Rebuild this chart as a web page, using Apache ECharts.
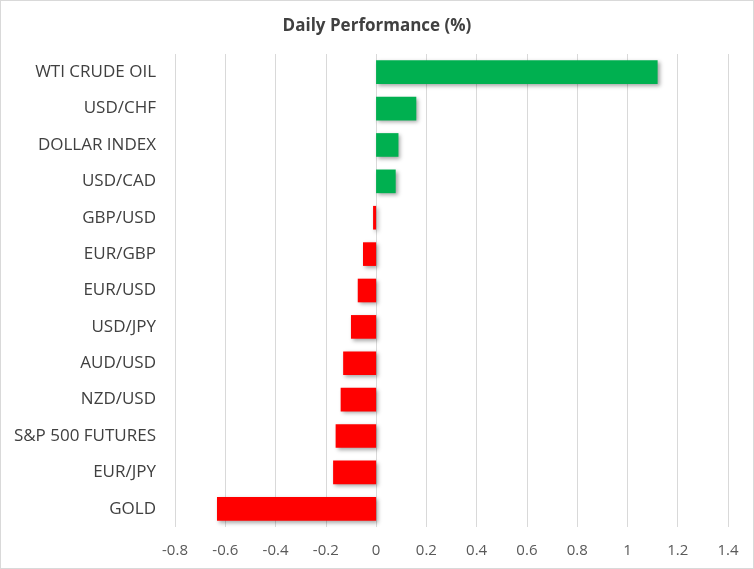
<!DOCTYPE html>
<html lang="en">
<head>
    <meta charset="UTF-8">
    <title>Daily Performance</title>
    <script src="https://cdn.jsdelivr.net/npm/echarts@6/dist/echarts.min.js"></script>
    <style>
        body { margin: 0; padding: 0; background: #fff; }
        #chart { width: 752px; height: 567px; border: 1px solid #d9d9d9; }
    </style>
</head>
<body>
    <div id="chart"></div>
    <script>
        var categories = ["WTI CRUDE OIL", "USD/CHF", "DOLLAR INDEX", "USD/CAD", "GBP/USD", "EUR/GBP",
            "EUR/USD", "USD/JPY", "AUD/USD", "NZD/USD", "S&P 500 FUTURES", "EUR/JPY", "GOLD"];
        var values = [1.12, 0.16, 0.089, 0.078, -0.012, -0.052, -0.073, -0.1, -0.131, -0.141, -0.161, -0.171, -0.633];
        var xTicks = [-0.8, -0.6, -0.4, -0.2, 0, 0.2, 0.4, 0.6, 0.8, 1, 1.2, 1.4];

        var chart = echarts.init(document.getElementById("chart"));
        var font = "'Open Sans', Lato, sans-serif";

        chart.setOption({
            animation: false,
            title: {
                text: "Daily Performance (%)",
                left: "center",
                top: 12,
                textStyle: { fontFamily: font, fontSize: 17, fontWeight: "bold", color: "#404040" }
            },
            grid: { left: 174, right: 25, top: 53, bottom: 41 },
            xAxis: {
                type: "value",
                min: xTicks[0],
                max: xTicks[xTicks.length - 1],
                interval: 0.2,
                axisLine: { show: false },
                axisTick: { show: false },
                splitLine: { lineStyle: { color: "#d9d9d9", width: 1 } },
                axisLabel: {
                    fontFamily: font, fontSize: 15, color: "#595959", margin: 16,
                    formatter: function (v) { return String(Math.round(v * 10) / 10); }
                }
            },
            yAxis: {
                type: "category",
                data: categories,
                inverse: true,
                axisLine: { show: false },
                axisTick: { show: false },
                axisLabel: { fontFamily: font, fontSize: 17, color: "#404040", margin: 19 }
            },
            series: [{
                type: "bar",
                data: values,
                barCategoryGap: "35%",
                itemStyle: {
                    color: function (p) { return p.value >= 0 ? "#00B050" : "#FF0000"; },
                    shadowColor: "rgba(0,0,0,0.35)",
                    shadowBlur: 4,
                    shadowOffsetX: 2,
                    shadowOffsetY: 2
                }
            }]
        });
    </script>
</body>
</html>
